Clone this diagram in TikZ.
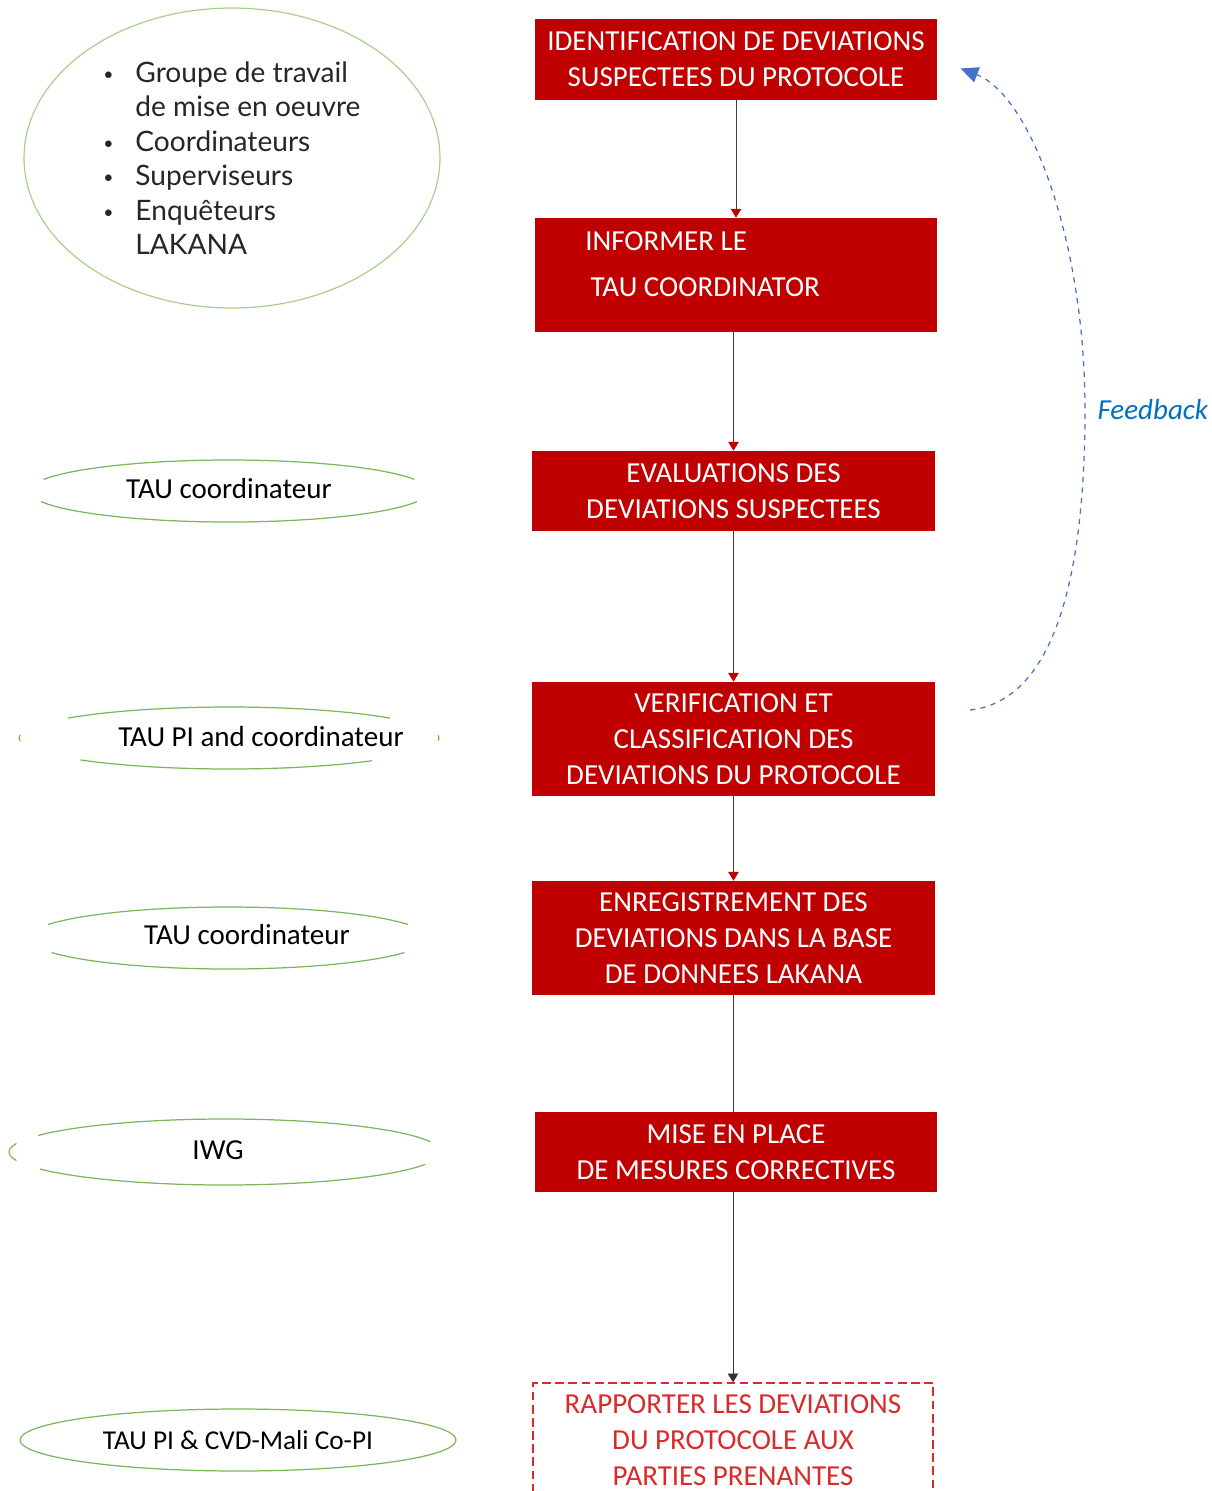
\documentclass[tikz,border=0pt]{standalone}
\usepackage{fontspec}
\setmainfont{Carlito}
\newfontfamily\listfont{Lato}
\usepackage{tikz}
\usetikzlibrary{shapes.geometric, arrows.meta, positioning}

\definecolor{boxred}{HTML}{C00000}
\definecolor{reportred}{HTML}{D92B2B}
\definecolor{rolegreen}{HTML}{7DB55A}
\definecolor{teamgreen}{HTML}{A9D18E}
\definecolor{fbblue}{HTML}{4472C4}
\definecolor{fbtext}{HTML}{0070C0}

\newcommand{\listbullet}{\makebox[0.64cm][l]{\raisebox{0.12ex}{\fontsize{10}{10}\selectfont\textbullet}}}

\begin{document}
\begin{tikzpicture}[x=0.02cm, y=-0.02cm,
    every node/.style={font=\fontsize{16.5}{20.4}\selectfont},
    stepbox/.style={rectangle, fill=boxred, text=white, align=center, minimum width=8.05cm, inner sep=0pt},
    role/.style={inner sep=0pt},
    roleline/.style={draw=rolegreen, line width=0.7pt},
    flow/.style={draw=black!75, line width=0.5pt, -{Triangle[length=5pt, width=6pt, color=boxred]}}]

        \useasboundingbox (0,0) rectangle (1212,1491);

        % steps
        \node (ident) [stepbox, minimum height=1.62cm] at (736,59.5) {IDENTIFICATION DE DEVIATIONS\\SUSPECTEES DU PROTOCOLE};
        \node (inform) [stepbox, minimum height=2.28cm] at (736,275) {};
        \node (informtext) [text=white, align=left, anchor=west, inner sep=0pt] at (585,264) {INFORMER LE\\[0.2cm]\hspace*{3pt}TAU COORDINATOR};
        \node (eval) [stepbox, minimum height=1.6cm] at (733.5,491) {EVALUATIONS DES\\DEVIATIONS SUSPECTEES};
        \node (verif) [stepbox, minimum height=2.28cm] at (733.5,739) {VERIFICATION ET\\CLASSIFICATION DES\\DEVIATIONS DU PROTOCOLE};
        \node (record) [stepbox, minimum height=2.28cm] at (733.5,938) {ENREGISTREMENT DES\\DEVIATIONS DANS LA BASE\\DE DONNEES LAKANA};
        \node (correct) [stepbox, minimum height=1.6cm] at (736,1152) {MISE EN PLACE\\DE MESURES CORRECTIVES};
        \node (report) [draw=reportred, dash pattern=on 5pt off 2.5pt, line width=0.8pt, text=reportred, align=center, minimum width=8cm, minimum height=2.28cm] at (733,1440) {RAPPORTER LES DEVIATIONS\\DU PROTOCOLE AUX\\PARTIES PRENANTES};

        \draw[flow] (ident.south) -- (ident.south |- inform.north);
        \draw[flow] (eval.north |- inform.south) -- (eval.north);
        \draw[flow] (eval.south) -- (verif.north);
        \draw[flow] (verif.south) -- (record.north);
        \draw[draw=black!75, line width=0.5pt] (record.south) -- (record.south |- correct.north);
        \draw[draw=black!80, line width=0.5pt, -{Triangle[length=5pt, width=6pt]}] (report.north |- correct.south) -- (report.north);

        % feedback loop
        \draw[fbblue, dashed, line width=0.7pt, -{Triangle[length=10pt, width=9pt]}] ([shift={(35,-29)}]verif.east)
            .. controls (1060,700) and (1085,560) .. (1085,410)
            node (fb) [anchor=west, inner sep=0pt, xshift=0.24cm, text=fbtext] {\itshape Feedback}
            .. controls (1085,240) and (1030,95) .. ([shift={(23,9)}]ident.east);

        % who does what
        \node (team) [ellipse, draw=teamgreen, line width=0.7pt, minimum width=8.32cm, minimum height=6cm, inner sep=0pt, align=left, text=black!85, font=\listfont\fontsize{16}{19.6}\selectfont] at (232,158)
            {\listbullet Groupe de travail\\\hspace*{0.64cm}de mise en oeuvre\\\listbullet Coordinateurs\\\listbullet Superviseurs\\\listbullet Enquêteurs\\\hspace*{0.64cm}LAKANA};

        \node (taucoord) [role] at (229,489) {TAU coordinateur};
        \draw[roleline] (229,491) ++(22:4cm and 0.62cm) arc[start angle=22, end angle=158, x radius=4cm, y radius=0.62cm];
        \draw[roleline] (229,491) ++(200:4cm and 0.62cm) arc[start angle=200, end angle=340, x radius=4cm, y radius=0.62cm];

        \node (taupi) [role] at (261,737) {TAU PI and coordinateur};
        \draw[roleline] (229,738) ++(40:4.2cm and 0.62cm) arc[start angle=40, end angle=140, x radius=4.2cm, y radius=0.62cm];
        \draw[roleline] (229,738) ++(225:4.2cm and 0.62cm) arc[start angle=225, end angle=313, x radius=4.2cm, y radius=0.62cm];
        \draw[roleline] (229,738) ++(174:4.2cm and 0.62cm) arc[start angle=174, end angle=186, x radius=4.2cm, y radius=0.62cm];
        \draw[roleline] (229,738) ++(-5:4.2cm and 0.62cm) arc[start angle=-5, end angle=5, x radius=4.2cm, y radius=0.62cm];

        \node (taucoordb) [role] at (247,935) {TAU coordinateur};
        \draw[roleline] (228,938) ++(26:4cm and 0.62cm) arc[start angle=26, end angle=154, x radius=4cm, y radius=0.62cm];
        \draw[roleline] (228,938) ++(208:4cm and 0.62cm) arc[start angle=208, end angle=332, x radius=4cm, y radius=0.62cm];

        \node (iwg) [role] at (218,1150) {IWG};
        \draw[roleline] (225,1152) ++(18:4.32cm and 0.66cm) arc[start angle=18, end angle=150, x radius=4.32cm, y radius=0.66cm];
        \draw[roleline] (225,1152) ++(211:4.32cm and 0.66cm) arc[start angle=211, end angle=338, x radius=4.32cm, y radius=0.66cm];
        \draw[roleline] (225,1152) ++(165:4.32cm and 0.66cm) arc[start angle=165, end angle=195, x radius=4.32cm, y radius=0.66cm];

        \node (taupicvd) [ellipse, draw=rolegreen, line width=0.7pt, minimum width=8.72cm, minimum height=1.24cm, inner sep=0pt, font=\fontsize{15.5}{18}\selectfont] at (238,1440) {TAU PI \& CVD-Mali Co-PI};

    \end{tikzpicture}
\end{document}
